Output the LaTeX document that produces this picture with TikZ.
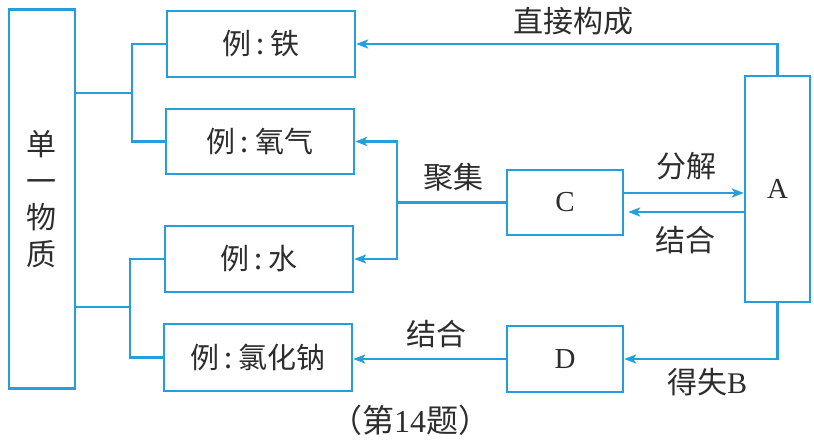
\documentclass[tikz,border=0pt]{standalone}
\usepackage{fontspec}
\setmainfont{Liberation Serif}
\newfontfamily\cjk{Noto Sans CJK SC}
\usetikzlibrary{arrows.meta}
\definecolor{lineblue}{RGB}{38,158,222}
\definecolor{ink}{RGB}{45,45,45}
\newcommand{\colonsep}{\hspace{5pt}:\hspace{6pt}}
\tikzset{
  box/.style={draw=lineblue, line width=2.4pt, rectangle, inner sep=0pt, text=ink,
    font=\cjk\fontsize{29}{32}\selectfont},
  conn/.style={draw=lineblue, line width=2.4pt},
  arr/.style={conn, -{Stealth[length=12pt,width=9pt,inset=3pt]}},
  lbl/.style={text=ink, inner sep=0pt, font=\cjk\fontsize{30}{32}\selectfont},
  latin/.style={font=\fontsize{29}{32}\selectfont}
}
\begin{document}
\begin{tikzpicture}[x=1pt,y=-1pt]
\useasboundingbox (0,0) rectangle (814,443);
% boxes
\node[box, minimum width=66pt, minimum height=379pt, align=center,
  font=\cjk\fontsize{30}{36.5}\selectfont] (L) at (42,199) {单\\一\\物\\质};
\node[box, minimum width=188pt, minimum height=66pt] (tie) at (261,44) {例\colonsep 铁};
\node[box, minimum width=188pt, minimum height=65pt] (yang) at (260,141.5) {例\colonsep 氧气};
\node[box, minimum width=188pt, minimum height=66pt] (shui) at (259,259) {例\colonsep 水};
\node[box, minimum width=188pt, minimum height=67pt] (lv) at (258,357.5) {例\colonsep 氯化钠};
\node[box, latin, minimum width=116pt, minimum height=65pt] (C) at (565,202.5) {C};
\node[box, latin, minimum width=116pt, minimum height=66pt] (D) at (565,359) {D};
\node[box, latin, minimum width=65pt, minimum height=226pt] (A) at (777.5,189) {A};
% branches on the left
\coordinate (b1) at (132,93);
\coordinate (b2) at (130,307);
\draw[conn] (L.east |- b1) -- (b1);
\draw[conn] (tie.west) -| (b1) |- (yang.west);
\draw[conn] (L.east |- b2) -- (b2);
\draw[conn] (shui.west) -| (b2) |- (lv.west);
% direct
\draw[arr] (A.north) |- (tie.east);
\node[lbl] (t1) at (573,21) {直接构成};
% gather
\coordinate (j) at (397,202.5);
\draw[arr] (C.west) -- (j) |- (yang.east);
\draw[arr] (j) |- (shui.east);
\node[lbl] (t2) at (453,177) {聚集};
% decompose / combine
\coordinate (c1) at ([yshift=9.5pt]C.east);
\coordinate (c2) at ([yshift=-9.5pt]C.east);
\draw[arr] (c1) -- (A.west |- c1);
\draw[arr, shorten >=4pt] (A.west |- c2) -- (c2);
\node[lbl] (t3) at (686,166) {分解};
\node[lbl] (t4) at (685,240) {结合};
% gain/lose B
\draw[arr] (A.south) |- (D.east);
\node[lbl] (t5) at (707,382) {得失\fontspec{Liberation Serif}B};
% combine to NaCl
\draw[arr] (D.west) -- (D.west -| lv.east);
\node[lbl] (t6) at (436,334) {结合};
% caption
\node[lbl, font=\cjk\fontsize{32}{34}\selectfont] (cap) at (410,420) {（第\fontspec{Liberation Serif}14\cjk 题）};
\end{tikzpicture}
\end{document}
